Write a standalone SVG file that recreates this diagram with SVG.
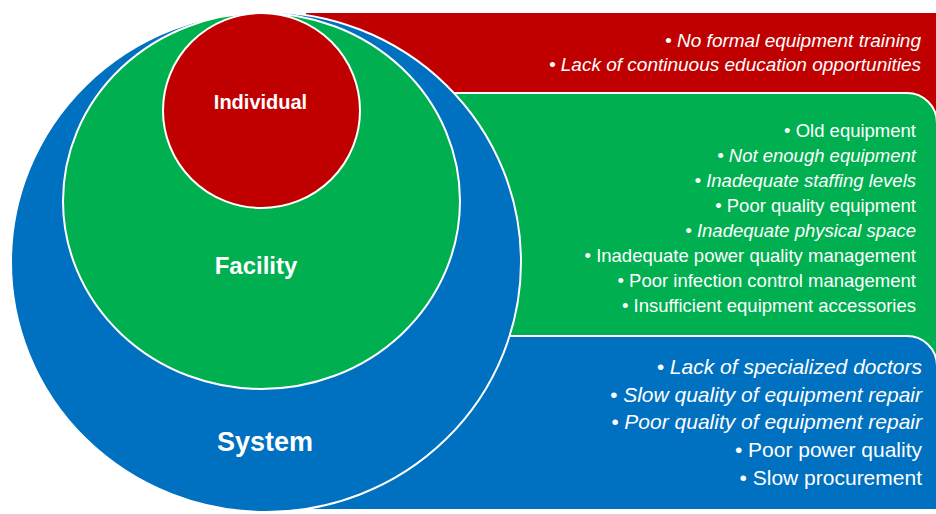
<svg xmlns="http://www.w3.org/2000/svg" width="936" height="514" viewBox="0 0 936 514">
  <style>
    .ring { stroke: #ffffff; stroke-width: 2; }
    .band { stroke: #ffffff; stroke-width: 2; }
    .red { fill: #C00000; }
    .green { fill: #00B050; }
    .blue { fill: #0070C0; }
    .label { font-family: "Liberation Sans", Arial, sans-serif; font-weight: bold; fill: #ffffff; text-anchor: middle; }
    .item { font-family: "Liberation Sans", Arial, sans-serif; fill: #ffffff; text-anchor: end; }
    .it { font-style: italic; }
    .s1 { font-size: 19px; }
    .s2 { font-size: 18.5px; }
    .s3 { font-size: 21px; }
  </style>

  <!-- Side panels listing the factors of each level -->
  <g id="individual-panel">
    <rect class="band red" x="305" y="12" width="640" height="140"/>
    <text class="item it s1" x="921" y="47">• No formal equipment training</text>
    <text class="item it s1" x="921" y="71">• Lack of continuous education opportunities</text>
  </g>

  <g id="facility-panel">
    <path class="band green" d="M300 93 H907 A30 30 0 0 1 937 123 V393 H300 Z"/>
    <text class="item s2" x="916" y="137">• Old equipment</text>
    <text class="item it s2" x="916" y="162">• Not enough equipment</text>
    <text class="item it s2" x="916" y="187">• Inadequate staffing levels</text>
    <text class="item s2" x="916" y="212">• Poor quality equipment</text>
    <text class="item it s2" x="916" y="237">• Inadequate physical space</text>
    <text class="item s2" x="916" y="262">• Inadequate power quality management</text>
    <text class="item s2" x="916" y="287">• Poor infection control management</text>
    <text class="item s2" x="916" y="312">• Insufficient equipment accessories</text>
  </g>

  <g id="system-panel">
    <path class="band blue" d="M300 336 H907 A30 30 0 0 1 937 366 V510 H300 Z"/>
    <text class="item it s3" x="922" y="374">• Lack of specialized doctors</text>
    <text class="item it s3" x="922" y="402">• Slow quality of equipment repair</text>
    <text class="item it s3" x="922" y="429">• Poor quality of equipment repair</text>
    <text class="item s3" x="922" y="457">• Poor power quality</text>
    <text class="item s3" x="922" y="485">• Slow procurement</text>
  </g>

  <!-- Nested levels -->
  <g id="system">
    <ellipse class="ring blue" cx="266" cy="262" rx="255" ry="250"/>
    <text class="label" x="265" y="451" font-size="27">System</text>
  </g>

  <g id="facility">
    <ellipse class="ring green" cx="261.5" cy="201" rx="198.5" ry="188"/>
    <text class="label" x="256" y="274" font-size="24">Facility</text>
  </g>

  <g id="individual">
    <ellipse class="ring red" cx="261.5" cy="110.5" rx="98.5" ry="97.5"/>
    <text class="label" x="260.5" y="109" font-size="20">Individual</text>
  </g>
</svg>
